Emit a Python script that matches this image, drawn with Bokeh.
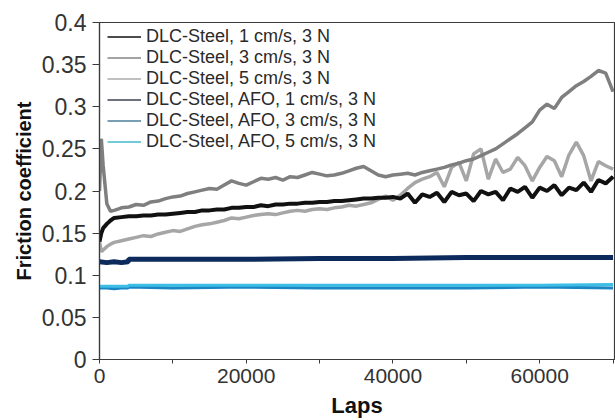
from bokeh.plotting import figure
from bokeh.models import (FixedTicker, CustomJSTickFormatter, Legend, LegendItem,
                          Range1d, BasicTickFormatter)
from bokeh.embed import file_html
from bokeh.resources import INLINE

# ---------------- data ----------------
laps = [0, 250, 500, 1000, 1500,
        2000, 3000, 4000, 5000, 6000, 7000, 8000, 9000, 10000, 11000,
        12000, 13000, 14000, 15000, 16000, 17000, 18000, 19000, 20000, 21000,
        22000, 23000, 24000, 25000, 26000, 27000, 28000, 29000, 30000, 31000,
        32000, 33000, 34000, 35000, 36000, 37000, 38000, 39000, 40000, 41000,
        42000, 43000, 44000, 45000, 46000, 47000, 48000, 49000, 50000, 51000,
        52000, 53000, 54000, 55000, 56000, 57000, 58000, 59000, 60000, 61000,
        62000, 63000, 64000, 65000, 66000, 67000, 68000, 69000, 70000]

steel_1cms = [0.140, 0.150, 0.156, 0.161, 0.165,
              0.168, 0.169, 0.170, 0.170, 0.171, 0.171, 0.172, 0.172, 0.173, 0.174,
              0.175, 0.175, 0.177, 0.177, 0.178, 0.178, 0.180, 0.180, 0.181, 0.181,
              0.183, 0.182, 0.184, 0.184, 0.185, 0.185, 0.186, 0.186, 0.187, 0.187,
              0.188, 0.188, 0.189, 0.190, 0.191, 0.191, 0.192, 0.192, 0.193, 0.191,
              0.197, 0.186, 0.196, 0.193, 0.198, 0.187, 0.199, 0.195, 0.197, 0.188,
              0.200, 0.196, 0.199, 0.189, 0.203, 0.199, 0.205, 0.192, 0.204, 0.200,
              0.207, 0.195, 0.204, 0.201, 0.210, 0.199, 0.213, 0.209, 0.217]

steel_3cms = [0.200, 0.262, 0.230, 0.185, 0.176,
              0.177, 0.180, 0.181, 0.184, 0.183, 0.187, 0.188, 0.191, 0.193, 0.194,
              0.197, 0.199, 0.201, 0.203, 0.202, 0.207, 0.212, 0.209, 0.207, 0.211,
              0.215, 0.214, 0.216, 0.213, 0.217, 0.216, 0.219, 0.222, 0.220, 0.218,
              0.219, 0.221, 0.224, 0.227, 0.229, 0.224, 0.219, 0.217, 0.219, 0.220,
              0.221, 0.219, 0.222, 0.224, 0.226, 0.228, 0.231, 0.233, 0.236, 0.238,
              0.242, 0.246, 0.250, 0.256, 0.262, 0.268, 0.275, 0.282, 0.296, 0.303,
              0.298, 0.311, 0.318, 0.325, 0.330, 0.336, 0.343, 0.340, 0.318]

steel_5cms = [0.140, 0.128, 0.130, 0.134, 0.137,
              0.139, 0.141, 0.143, 0.145, 0.147, 0.146, 0.149, 0.151, 0.153, 0.152,
              0.155, 0.158, 0.160, 0.161, 0.163, 0.165, 0.168, 0.167, 0.169, 0.171,
              0.172, 0.173, 0.172, 0.174, 0.176, 0.177, 0.176, 0.178, 0.179, 0.178,
              0.180, 0.181, 0.183, 0.182, 0.184, 0.186, 0.190, 0.194, 0.189, 0.195,
              0.203, 0.210, 0.214, 0.217, 0.222, 0.205, 0.228, 0.234, 0.212, 0.244,
              0.250, 0.214, 0.238, 0.222, 0.226, 0.240, 0.230, 0.212, 0.228, 0.241,
              0.236, 0.217, 0.243, 0.258, 0.242, 0.212, 0.235, 0.230, 0.226]

afo_laps = [0, 1000, 2000, 3000, 3900, 4000, 10000, 20000, 30000, 40000, 50000, 60000, 70000]
afo_1cms = [0.116, 0.115, 0.116, 0.115, 0.116, 0.119, 0.119, 0.119, 0.120, 0.120, 0.121, 0.121, 0.121]
afo_3cms = [0.085, 0.085, 0.084, 0.085, 0.085, 0.086, 0.085, 0.086, 0.085, 0.085, 0.085, 0.086, 0.085]
afo_5cms = [0.087, 0.087, 0.087, 0.087, 0.087, 0.088, 0.088, 0.088, 0.088, 0.088, 0.088, 0.088, 0.089]

legend_labels = ["DLC-Steel, 1 cm/s, 3 N", "DLC-Steel, 3 cm/s, 3 N", "DLC-Steel, 5 cm/s, 3 N",
                 "DLC-Steel, AFO, 1 cm/s, 3 N", "DLC-Steel, AFO, 3 cm/s, 3 N",
                 "DLC-Steel, AFO, 5 cm/s, 3 N"]
legend_colors = ["#111111", "#858585", "#ababab", "#3b4450", "#4d7f9c", "#45b9cc"]

y_ticks = [0, 0.05, 0.1, 0.15, 0.2, 0.25, 0.3, 0.35, 0.4]
x_major = [0, 20000, 40000, 60000]
x_minor = [10000, 30000, 50000, 70000]

FONT = "Liberation Sans"

# ---------------- figure ----------------
p = figure(width=615, height=420, output_backend="svg", toolbar_location=None,
           x_range=Range1d(0, 70200), y_range=Range1d(0, 0.4),
           min_border_left=99, min_border_right=1, min_border_top=22, min_border_bottom=60)
p.grid.visible = False
p.outline_line_color = "#3a3a3a"
p.outline_line_width = 1.2
p.background_fill_color = "white"
p.border_fill_color = "white"

series = [
    (laps, steel_1cms, "#111111", 4),
    (laps, steel_3cms, "#7f7f7f", 3.5),
    (laps, steel_5cms, "#a6a6a6", 3.5),
    (afo_laps, afo_1cms, "#0c2a5b", 5),
    (afo_laps, afo_3cms, "#1a86c4", 3),
    (afo_laps, afo_5cms, "#3cbde6", 3),
]

# thin copies (used as legend samples; hidden under the thick lines)
items = []
for (xs, ys, _, _), lab, col in zip(series, legend_labels, legend_colors):
    r = p.line(xs, ys, line_color=col, line_width=1.6)
    items.append(LegendItem(label=lab, renderers=[r]))

# thick plot lines: AFO first, then 5, 3, 1 cm/s on top
for idx in [3, 4, 5, 2, 1, 0]:
    xs, ys, col, w = series[idx]
    p.line(xs, ys, line_color=col, line_width=w)

legend = Legend(items=items, location=(8, 207), padding=0, margin=0, spacing=0,
                glyph_width=34, glyph_height=21, label_height=21, label_standoff=5,
                label_text_font=FONT, label_text_font_size="18px",
                label_text_color="#2a2a2a",
                border_line_alpha=0, background_fill_alpha=0)
p.add_layout(legend, "center")

# axes
yax = p.yaxis[0]
yax.ticker = FixedTicker(ticks=y_ticks)
yax.formatter = CustomJSTickFormatter(code="return tick == 0 ? '0' : String(parseFloat(tick.toFixed(2)));")
yax.axis_label = "Friction coefficient"
yax.major_tick_out = 7
yax.major_tick_in = 0
yax.minor_tick_out = 0
yax.major_label_standoff = 6
yax.axis_label_standoff = 4
yax.major_label_text_font_size = "23px"
yax.axis_label_text_font_size = "20px"

xax = p.xaxis[0]
xax.ticker = FixedTicker(ticks=x_major, minor_ticks=x_minor)
xax.formatter = BasicTickFormatter(use_scientific=False)
xax.axis_label = "Laps"
xax.major_tick_out = 4
xax.major_tick_in = 0
xax.minor_tick_out = 4
xax.minor_tick_in = 0
xax.major_label_standoff = 5
xax.axis_label_standoff = 7
xax.major_label_text_font_size = "21px"
xax.axis_label_text_font_size = "22px"

for ax in (xax, yax):
    ax.axis_line_color = "#3a3a3a"
    ax.axis_line_width = 1.2
    ax.major_tick_line_color = "#3a3a3a"
    ax.minor_tick_line_color = "#3a3a3a"
    ax.major_label_text_font = FONT
    ax.major_label_text_color = "#333333"
    ax.axis_label_text_font = FONT
    ax.axis_label_text_font_style = "bold"
    ax.axis_label_text_color = "#111111"

open("out.html", "w").write(file_html(p, INLINE))
